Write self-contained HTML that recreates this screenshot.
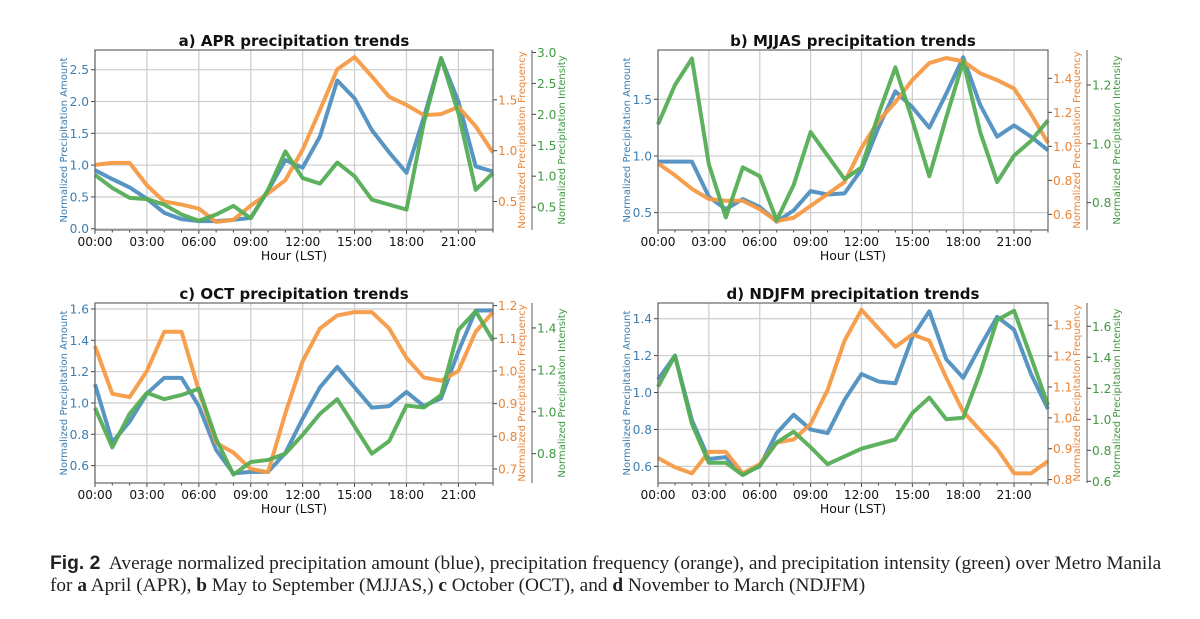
<!DOCTYPE html>
<html><head><meta charset="utf-8">
<style>
body{margin:0;background:#fff;width:1200px;height:619px;overflow:hidden;font-family:"DejaVu Sans","Liberation Sans",sans-serif}
#cap{position:absolute;left:50px;top:553px;font-family:"Liberation Serif",serif;font-size:19.3px;line-height:22px;color:#222;white-space:nowrap}
</style></head><body>
<svg id="chart" width="1200" height="545" style="position:absolute;left:0;top:0"></svg>
<div id="cap"><b style="font-family:'Liberation Sans',sans-serif">Fig. 2</b>&nbsp; Average normalized precipitation amount (blue), precipitation frequency (orange), and precipitation intensity (green) over Metro Manila<br>for <b>a</b> April (APR), <b>b</b> May to September (MJJAS,) <b>c</b> October (OCT), and <b>d</b> November to March (NDJFM)</div>
<script>
const hours=[0,1,2,3,4,5,6,7,8,9,10,11,12,13,14,15,16,17,18,19,20,21,22,23];
const xTickLabels=["00:00","03:00","06:00","09:00","12:00","15:00","18:00","21:00"];
const titles=["a) APR precipitation trends","b) MJJAS precipitation trends","c) OCT precipitation trends","d) NDJFM precipitation trends"];
const amountA=[0.92,0.78,0.65,0.47,0.25,0.15,0.12,0.12,0.14,0.17,0.6,1.08,0.96,1.45,2.33,2.05,1.55,1.2,0.88,1.75,2.68,2.0,0.98,0.9];
const freqA=[0.86,0.88,0.88,0.66,0.5,0.47,0.43,0.3,0.32,0.46,0.58,0.71,1.01,1.4,1.8,1.92,1.73,1.53,1.45,1.35,1.36,1.43,1.24,0.98];
const intensA=[1.02,0.81,0.65,0.63,0.54,0.38,0.28,0.38,0.52,0.32,0.78,1.4,0.97,0.88,1.22,1.0,0.62,0.54,0.46,1.86,2.91,2.02,0.78,1.05];
const amountB=[0.95,0.95,0.95,0.64,0.53,0.62,0.55,0.42,0.52,0.69,0.66,0.67,0.88,1.25,1.57,1.43,1.25,1.55,1.87,1.45,1.17,1.27,1.17,1.05];
const freqB=[0.9,0.83,0.75,0.69,0.68,0.68,0.63,0.56,0.58,0.65,0.72,0.79,0.99,1.15,1.26,1.39,1.49,1.52,1.5,1.43,1.39,1.34,1.19,1.02];
const intensB=[1.066,1.2,1.29,0.93,0.75,0.92,0.89,0.74,0.86,1.04,0.96,0.88,0.92,1.1,1.26,1.08,0.89,1.09,1.28,1.04,0.87,0.96,1.01,1.08];
const amountC=[1.12,0.75,0.88,1.06,1.16,1.16,0.98,0.7,0.55,0.56,0.56,0.68,0.9,1.1,1.23,1.1,0.97,0.98,1.07,0.98,1.03,1.33,1.59,1.59];
const freqC=[1.076,0.93,0.92,1.0,1.12,1.12,0.94,0.78,0.75,0.7,0.69,0.87,1.03,1.13,1.17,1.18,1.18,1.13,1.04,0.98,0.97,1.0,1.12,1.18];
const intensC=[1.018,0.83,0.99,1.09,1.06,1.08,1.11,0.87,0.7,0.76,0.77,0.8,0.89,0.99,1.06,0.93,0.8,0.86,1.03,1.02,1.08,1.39,1.48,1.34];
const amountD=[1.07,1.2,0.85,0.64,0.65,0.56,0.6,0.78,0.88,0.8,0.78,0.96,1.1,1.06,1.05,1.3,1.44,1.18,1.08,1.25,1.41,1.34,1.1,0.91];
const freqD=[0.87,0.84,0.82,0.89,0.89,0.82,0.85,0.92,0.93,0.98,1.09,1.25,1.35,1.29,1.23,1.27,1.25,1.13,1.02,0.96,0.9,0.82,0.82,0.86];
const intensD=[1.21,1.41,0.97,0.72,0.72,0.64,0.7,0.85,0.92,0.82,0.71,0.76,0.81,0.84,0.87,1.04,1.14,1.0,1.01,1.3,1.64,1.7,1.4,1.09];
const amountTicks=[["0.0","0.5","1.0","1.5","2.0","2.5"],["0.5","1.0","1.5"],["0.6","0.8","1.0","1.2","1.4","1.6"],["0.6","0.8","1.0","1.2","1.4"]];
const freqTicks=[["0.5","1.0","1.5"],["0.6","0.8","1.0","1.2","1.4"],["0.7","0.8","0.9","1.0","1.1","1.2"],["0.8","0.9","1.0","1.1","1.2","1.3"]];
const intensTicks=[["0.5","1.0","1.5","2.0","2.5","3.0"],["0.8","1.0","1.2"],["0.8","1.0","1.2","1.4"],["0.6","0.8","1.0","1.2","1.4","1.6"]];
const amountRange=[[-0.02,2.81],[0.347,1.935],[0.489,1.638],[0.51,1.485]];
const freqRange=[[0.22,1.99],[0.508,1.567],[0.657,1.208],[0.789,1.372]];
const intensRange=[[0.13,3.04],[0.707,1.319],[0.66,1.519],[0.589,1.75]];
const amounts=[amountA,amountB,amountC,amountD];
const freqs=[freqA,freqB,freqC,freqD];
const intens=[intensA,intensB,intensC,intensD];

const NS="http://www.w3.org/2000/svg";
const svg=document.getElementById('chart');
const boxes=[[95,50,493,230],[658,50,1048,230],[95,303,493,483],[658,303,1048,483]];
const C={blue:"#4f8fc0",orange:"#f59a45",green:"#55ad55",bt:"#3c7eb2",ot:"#e8853a",gt:"#3f9a3f"};
const names=["apr","mjjas","oct","ndjfm"];
const FS=12.2;
function mk(tag,attrs,parent){const e=document.createElementNS(NS,tag);for(const k in attrs)e.setAttribute(k,attrs[k]);(parent||svg).appendChild(e);return e;}
boxes.forEach((b,p)=>{
  const [L,T,R,B]=b;
  const g=mk('g',{});
  
  
  const xs=h=>L+(R-L)*h/23;
  const ysc=(r)=>v=>B-(B-T)*(v-r[0])/(r[1]-r[0]);
  const ya=ysc(amountRange[p]),yf=ysc(freqRange[p]),yi=ysc(intensRange[p]);
  for(let h=0;h<=21;h+=3){mk('line',{x1:xs(h),x2:xs(h),y1:T,y2:B,stroke:"#d0d0d0","stroke-width":1.3},g);}
  amountTicks[p].forEach(t=>{const y=ya(+t);mk('line',{x1:L,x2:R,y1:y,y2:y,stroke:"#d0d0d0","stroke-width":1.3},g);
    const tx=mk('text',{x:L-6,y:y+4.5,"text-anchor":"end","font-size":FS,fill:C.bt},g);tx.textContent=t;
    
    mk('line',{x1:L-4,x2:L,y1:y,y2:y,stroke:"#444"},g);});
  freqTicks[p].forEach(t=>{const y=yf(+t);mk('line',{x1:R,x2:R+4,y1:y,y2:y,stroke:"#444"},g);
    const tx=mk('text',{x:R+5,y:y+4.5,"font-size":FS,fill:C.ot},g);tx.textContent=t;
    });
  const GX=R+39;
  mk('line',{x1:GX,x2:GX,y1:T,y2:B,stroke:"#777","stroke-width":1.2},g);
  intensTicks[p].forEach(t=>{const y=yi(+t);mk('line',{x1:GX,x2:GX+4,y1:y,y2:y,stroke:"#444"},g);
    const tx=mk('text',{x:GX+5,y:y+4.5,"font-size":FS,fill:C.gt},g);tx.textContent=t;
    });
  hours.forEach(h=>{mk('line',{x1:xs(h),x2:xs(h),y1:B,y2:B+(h%3?2.5:4),stroke:"#444"},g);});
  xTickLabels.forEach((t,i)=>{const tx=mk('text',{x:xs(i*3),y:B+16,"text-anchor":"middle","font-size":FS,fill:"#111"},g);tx.textContent=t;
    });
  const ser=[[amounts[p],ya,C.blue,'amount-line'],[freqs[p],yf,C.orange,'frequency-line'],[intens[p],yi,C.green,'intensity-line']];
  ser.forEach(([d,ys,col,nm])=>{const pl=mk('polyline',{points:d.map((v,i)=>xs(hours[i])+","+ys(v)).join(" "),fill:"none",stroke:col,"stroke-width":4,"stroke-linejoin":"round",opacity:0.95},g);
    });
  mk('rect',{x:L,y:T,width:R-L,height:B-T,fill:"none",stroke:"#666","stroke-width":1.2},g);
  const ti=mk('text',{x:(L+R)/2,y:T-4,"text-anchor":"middle","font-size":15,"font-weight":"bold",fill:"#111"},g);ti.textContent=titles[p];
  
  const xl=mk('text',{x:(L+R)/2,y:B+30,"text-anchor":"middle","font-size":12.5,fill:"#111"},g);xl.textContent="Hour (LST)";
  
  const labs=[[L-28,"Normalized Precipitation Amount",C.bt,'amount-axis-title'],[R+32,"Normalized Precipitation Frequency",C.ot,'frequency-axis-title'],[GX+33,"Normalized Precipitation Intensity",C.gt,'intensity-axis-title']];
  labs.forEach(([x,t,col,nm])=>{const y=(T+B)/2;const tx=mk('text',{x:x,y:y,"text-anchor":"middle","font-size":10,fill:col,transform:`rotate(-90 ${x} ${y})`},g);tx.textContent=t;
    });
});
</script>
</body></html>
